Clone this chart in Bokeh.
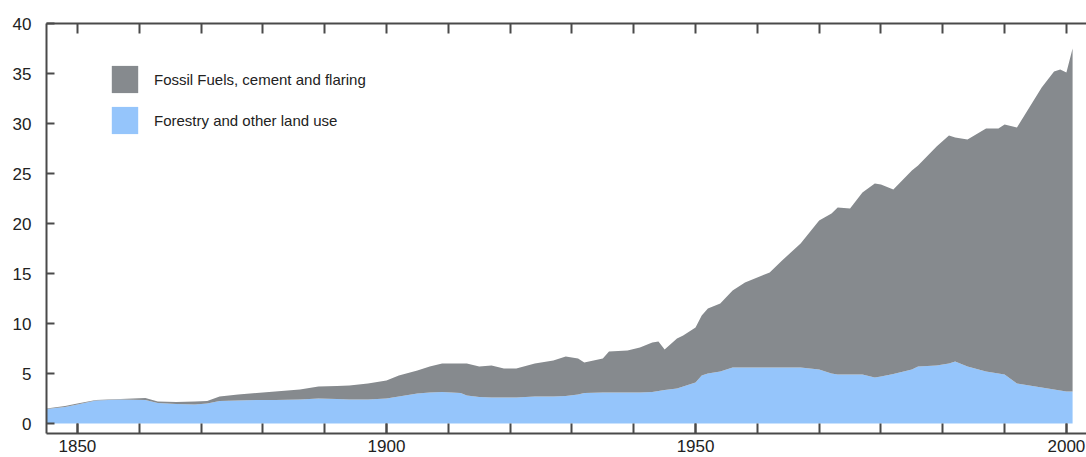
from bokeh.plotting import figure
from bokeh.models import (ColumnDataSource, Range1d, LinearAxis, FixedTicker,
                          Legend, LegendItem)
from bokeh.embed import file_html
from bokeh.resources import INLINE

# ---- data (GtCO2 / yr) ----
years = [1845, 1848, 1850, 1853, 1857, 1861, 1863, 1866, 1869, 1871, 1873, 1876,
         1879, 1882, 1886, 1889, 1892, 1894, 1897, 1900, 1902, 1905, 1907, 1909,
         1912, 1913, 1915, 1917, 1919, 1921, 1924, 1927, 1929, 1931, 1932, 1935,
         1936, 1939, 1941, 1943, 1944, 1945, 1947, 1948, 1950, 1951, 1952, 1954,
         1956, 1958, 1962, 1964, 1967, 1970, 1972, 1973, 1975, 1977, 1979, 1980,
         1982, 1985, 1986, 1989, 1991, 1992, 1994, 1997, 1999, 2000, 2002, 2004,
         2006, 2008, 2009, 2010, 2011]

forestry = [1.45, 1.65, 1.9, 2.3, 2.4, 2.35, 2.05, 1.95, 1.9, 2.0, 2.25, 2.3,
            2.35, 2.35, 2.4, 2.5, 2.45, 2.4, 2.4, 2.5, 2.7, 3.0, 3.1, 3.15,
            3.05, 2.8, 2.65, 2.6, 2.6, 2.6, 2.7, 2.7, 2.75, 2.9, 3.05, 3.1,
            3.1, 3.1, 3.1, 3.15, 3.25, 3.35, 3.5, 3.7, 4.1, 4.8, 5.0, 5.2,
            5.6, 5.6, 5.6, 5.6, 5.6, 5.4, 5.0, 4.9, 4.9, 4.9, 4.6, 4.7,
            4.95, 5.4, 5.7, 5.8, 6.0, 6.2, 5.7, 5.2, 5.0, 4.9, 4.0, 3.8,
            3.6, 3.4, 3.3, 3.2, 3.2]

fossil = [0.05, 0.10, 0.10, 0.05, 0.05, 0.20, 0.15, 0.20, 0.30, 0.25, 0.45, 0.60,
          0.70, 0.85, 1.00, 1.20, 1.30, 1.40, 1.60, 1.80, 2.10, 2.30, 2.60, 2.85,
          2.95, 3.20, 3.05, 3.20, 2.90, 2.90, 3.30, 3.60, 3.95, 3.60, 3.05, 3.40,
          4.10, 4.20, 4.50, 4.95, 4.95, 4.05, 5.00, 5.10, 5.50, 6.00, 6.50, 6.80,
          7.70, 8.50, 9.50, 10.70, 12.40, 14.90, 16.00, 16.70, 16.60, 18.20, 19.40, 19.20,
          18.45, 19.90, 20.10, 21.90, 22.80, 22.40, 22.70, 24.30, 24.50, 25.00, 25.60, 27.80,
          30.00, 31.80, 32.10, 31.90, 34.30]

series_names = ["Fossil Fuels, cement and flaring", "Forestry and other land use"]

decade_ticks = [1850, 1860, 1870, 1880, 1890, 1900, 1910, 1920, 1930, 1940,
                1950, 1960, 1970, 1980, 1990, 2000, 2010]
labeled_ticks = [1850, 1900, 1950, 2010]
labeled_text = ["1850", "1900", "1950", "2000"]
y_ticks = [0, 5, 10, 15, 20, 25, 30, 35, 40]

# ---- styling ----
GREY = "#868a8e"
BLUE = "#95c5fb"
AXIS = "#4a4a4a"
TEXT = "#222222"
FONT = "Liberation Sans"

source = ColumnDataSource(dict(year=years, forestry=forestry, fossil=fossil))

p = figure(width=1086, height=457, output_backend="svg", toolbar_location=None,
           x_range=Range1d(1845, 2013.25), y_range=Range1d(-1.0, 40.0),
           x_axis_type=None, y_axis_type=None,
           min_border_left=46, min_border_right=0, min_border_top=23,
           min_border_bottom=24)
p.outline_line_color = None
p.xgrid.visible = False
p.ygrid.visible = False
p.background_fill_color = "white"
p.border_fill_color = "white"

rends = p.varea_stack(["forestry", "fossil"], x="year", source=source,
                      color=[BLUE, GREY])


def style_axis(ax, tick_len):
    ax.axis_line_color = AXIS
    ax.axis_line_width = 2
    ax.major_tick_line_color = AXIS
    ax.major_tick_line_width = 2
    ax.major_tick_in = tick_len
    ax.major_tick_out = 0
    ax.minor_tick_line_color = AXIS
    ax.minor_tick_line_width = 2
    ax.minor_tick_in = tick_len
    ax.minor_tick_out = 0
    ax.major_label_text_font = FONT
    ax.major_label_text_font_size = "17px"
    ax.major_label_text_color = TEXT


xb = LinearAxis(ticker=FixedTicker(ticks=labeled_ticks, minor_ticks=decade_ticks),
                major_label_overrides=dict(zip(labeled_ticks, labeled_text)))
style_axis(xb, 10)
xb.major_label_standoff = 6
p.add_layout(xb, "below")

xt = LinearAxis(ticker=FixedTicker(ticks=[], minor_ticks=decade_ticks))
style_axis(xt, 10)
xt.major_label_standoff = 0
p.add_layout(xt, "above")

yl = LinearAxis(ticker=FixedTicker(ticks=y_ticks, minor_ticks=[]))
style_axis(yl, 8)
yl.major_label_standoff = 15
p.add_layout(yl, "left")

legend = Legend(items=[LegendItem(label=series_names[0], renderers=[rends[1]]),
                       LegendItem(label=series_names[1], renderers=[rends[0]])],
                location=(62, 296), orientation="vertical")
legend.glyph_width = 33
legend.glyph_height = 34
legend.spacing = 7
legend.padding = 0
legend.margin = 0
legend.label_standoff = 13
legend.label_text_font = FONT
legend.label_text_font_size = "15px"
legend.label_text_color = TEXT
legend.border_line_color = None
legend.background_fill_alpha = 0
p.add_layout(legend, "center")

open("out.html", "w").write(file_html(p, INLINE))
